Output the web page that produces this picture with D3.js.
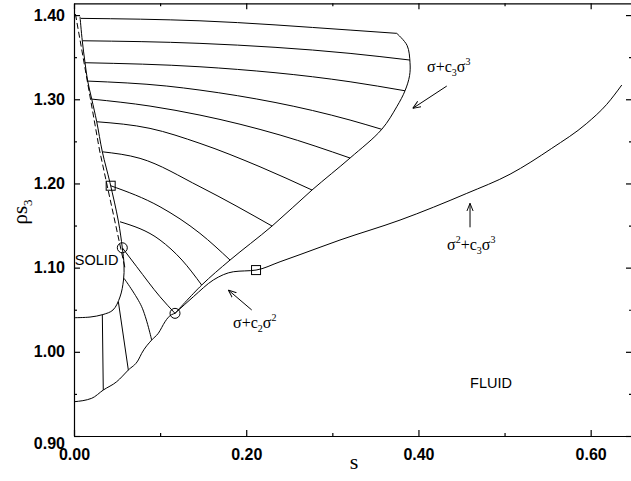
<!DOCTYPE html>
<html>
<head>
<meta charset="utf-8">
<script src="https://cdn.jsdelivr.net/npm/d3@7"></script>
<style>
  body { margin: 0; background: #fff; }
</style>
</head>
<body>
<div id="chart"></div>
<script>
// all points are [s, rho*s3]

// axis ticks
const xTicks = [0, 0.2, 0.4, 0.6];
const xMinor = [0.1, 0.3, 0.5];
const yTicks = [0.9, 1.0, 1.1, 1.2, 1.3, 1.4];
const yMinor = [0.95, 1.05, 1.15, 1.25, 1.35];

// solid side of the coexistence region
const solidLine = [[0.0070,1.398],[0.0096,1.3695],[0.0128,1.3434],[0.0159,1.3216],[0.0206,1.3002],
  [0.0264,1.2733],[0.0329,1.2376],[0.0418,1.2008],[0.0515,1.1553],[0.0561,1.1236],[0.0581,1.1031],
  [0.0575,1.0853],[0.0534,1.0651],[0.0453,1.0497],[0.0337,1.0443],[0.0186,1.0413],[0.0,1.0405]];
const dashedLine = [[0.0017,1.4012],[0.0296,1.2397],[0.0592,1.0995]];

// lower edge of the solid-solid region
const lowerEdge = [[0.0,0.9407],[0.0206,0.9448],[0.0340,0.9546],[0.0496,0.9645],[0.0631,0.9784],
  [0.0747,0.9903],[0.0786,0.9982],[0.0902,1.0140],[0.0979,1.0220],[0.1057,1.0357],[0.1095,1.0410],[0.1173,1.0457]];

// sigma + c3 sigma^3 cloud curve
const cloudCurve = [[0.1173,1.0457],[0.1483,1.0793],[0.1812,1.1090],[0.2300,1.1494],[0.2764,1.1922],
  [0.3206,1.2302],[0.3574,1.2643],[0.3748,1.2911],[0.3844,1.3101],[0.3897,1.3281],[0.3902,1.3435],
  [0.3868,1.3640],[0.3748,1.3783]];

// fluid curve: sigma + c2 sigma^2 then sigma^2 + c3 sigma^3
const fluidCurve = [[0.1173,1.0457],[0.1386,1.0654],[0.1618,1.0853],[0.1850,1.0951],[0.2114,1.0971],
  [0.2393,1.1070],[0.2625,1.1155],[0.3089,1.1328],[0.3786,1.1565],[0.4561,1.1882],[0.5064,1.2110],
  [0.5548,1.2417],[0.5955,1.2714],[0.6187,1.2940],[0.6361,1.3169]];

// tie lines solid -> fluid
const tieUpper = [
  [[0.0081,1.3961],[0.1463,1.3932],[0.3206,1.3822],[0.3748,1.3783]],
  [[0.0096,1.3695],[0.1463,1.3664],[0.3206,1.3545],[0.3900,1.3466]],
  [[0.0128,1.3434],[0.1463,1.3386],[0.3206,1.3208],[0.3844,1.3101]],
  [[0.0159,1.3216],[0.1077,1.3157],[0.1463,1.3109],[0.3206,1.2753],[0.3574,1.2643]],
  [[0.0206,1.3002],[0.0883,1.2919],[0.1463,1.2812],[0.2393,1.2575],[0.3206,1.2302]],
  [[0.0264,1.2733],[0.0883,1.2654],[0.1463,1.2476],[0.2160,1.2198],[0.2764,1.1922]],
  [[0.0329,1.2376],[0.0767,1.2298],[0.1463,1.1961],[0.2300,1.1494]],
  [[0.0426,1.1973],[0.0999,1.1723],[0.1463,1.1407],[0.1812,1.1090]],
  [[0.0534,1.1545],[0.0999,1.1328],[0.1254,1.1090],[0.1483,1.0793]],
  [[0.0561,1.1236],[0.0728,1.1011],[0.0999,1.0654],[0.1173,1.0457]]
];
// tie lines solid -> solid
const tieLower = [
  [[0.0329,1.0437],[0.0340,0.9546]],
  [[0.0515,1.0595],[0.0631,0.9784]],
  [[0.0581,1.0873],[0.0786,1.0536],[0.0902,1.0140]]
];

const squarePts = [[0.0426,1.1973],[0.2114,1.0971]];
const circlePts = [[0.0561,1.1236],[0.1173,1.0457]];

const width = 631, height = 481;
const svg = d3.select("#chart").append("svg")
  .attr("width", width)
  .attr("height", height);

const x = d3.scaleLinear().domain([0, 0.648]).range([74, 632]);
const y = d3.scaleLinear().domain([0.9, 1.414]).range([436, 3.3]);

svg.append("defs").append("marker")
  .attr("id", "arrow")
  .attr("viewBox", "0 0 10 10")
  .attr("refX", 10).attr("refY", 5)
  .attr("markerWidth", 8).attr("markerHeight", 8)
  .attr("markerUnits", "userSpaceOnUse")
  .attr("orient", "auto")
  .append("path")
  .attr("d", "M0,1 L10,5 L0,9")
  .attr("fill", "none")
  .attr("stroke", "#000")
  .attr("stroke-width", 1.2);

// axes, ticks point inward
const fmt = d3.format(".2f");
svg.append("g").attr("transform", "translate(0,436)")
  .call(d3.axisBottom(x).tickValues(xTicks).tickSize(-6).tickSizeOuter(0).tickPadding(13).tickFormat(fmt));
svg.append("g").attr("transform", "translate(0,436)")
  .call(d3.axisBottom(x).tickValues(xMinor).tickSize(-3).tickSizeOuter(0).tickFormat(""))
  .select(".domain").remove();
svg.append("g").attr("transform", "translate(0,3.3)")
  .call(d3.axisTop(x).tickValues(xTicks).tickSize(-6).tickSizeOuter(0).tickFormat(""));
svg.append("g").attr("transform", "translate(0,3.3)")
  .call(d3.axisTop(x).tickValues(xMinor).tickSize(-3).tickSizeOuter(0).tickFormat(""))
  .select(".domain").remove();

const left = svg.append("g").attr("transform", "translate(74,0)")
  .call(d3.axisLeft(y).tickValues(yTicks).tickSize(-6).tickSizeOuter(0).tickPadding(9).tickFormat(fmt));
svg.append("g").attr("transform", "translate(74,0)")
  .call(d3.axisLeft(y).tickValues(yMinor).tickSize(-3).tickSizeOuter(0).tickFormat(""))
  .select(".domain").remove();
svg.append("g").attr("transform", "translate(632,0)")
  .call(d3.axisRight(y).tickValues(yTicks).tickSize(-6).tickSizeOuter(0).tickFormat(""));
svg.append("g").attr("transform", "translate(632,0)")
  .call(d3.axisRight(y).tickValues(yMinor).tickSize(-3).tickSizeOuter(0).tickFormat(""))
  .select(".domain").remove();

svg.selectAll(".domain, .tick line").attr("stroke", "#000").attr("stroke-width", 1.2);
svg.selectAll(".tick text")
  .attr("font-family", "'Liberation Sans', Arial, sans-serif")
  .attr("font-size", 16)
  .attr("font-weight", "bold")
  .attr("fill", "#000");
// 0.90 sits a little low so it clears 0.00
left.selectAll(".tick text").filter(d => d === 0.9).attr("dy", "0.75em");

// axis titles
svg.append("text")
  .attr("x", 354).attr("y", 469)
  .attr("text-anchor", "middle")
  .attr("font-family", "'Liberation Serif', 'Times New Roman', serif")
  .attr("font-size", 22)
  .text("s");

const ylab = svg.append("text")
  .attr("transform", "translate(27,212) rotate(-90)")
  .attr("text-anchor", "middle")
  .attr("font-family", "'Liberation Serif', 'Times New Roman', serif")
  .attr("font-size", 21);
ylab.append("tspan").text("ρs");
ylab.append("tspan").attr("font-size", 13).attr("dy", 5).text("3");

// curves
const smooth = d3.line().x(d => x(d[0])).y(d => y(d[1])).curve(d3.curveCatmullRom.alpha(0.5));
const monotone = d3.line().x(d => x(d[0])).y(d => y(d[1])).curve(d3.curveMonotoneX);
const straight = d3.line().x(d => x(d[0])).y(d => y(d[1]));
const lineStyle = sel => sel.attr("fill", "none").attr("stroke", "#000").attr("stroke-width", 1);

svg.append("path").datum(solidLine).attr("d", smooth).call(lineStyle);
svg.append("path").datum(dashedLine).attr("d", straight).call(lineStyle).attr("stroke-dasharray", "6,3");
svg.append("path").datum(lowerEdge).attr("d", monotone).call(lineStyle);
svg.append("path").datum(cloudCurve).attr("d", smooth).call(lineStyle);
svg.append("path").datum(fluidCurve).attr("d", monotone).call(lineStyle);

svg.selectAll("path.tieU")
  .data(tieUpper)
  .enter()
  .append("path")
    .attr("class", "tieU")
    .attr("d", monotone)
    .call(lineStyle);
svg.selectAll("path.tieL")
  .data(tieLower)
  .enter()
  .append("path")
    .attr("class", "tieL")
    .attr("d", smooth)
    .call(lineStyle);

// markers
svg.selectAll("rect.sq")
  .data(squarePts)
  .enter()
  .append("rect")
    .attr("class", "sq")
    .attr("x", d => x(d[0]) - 4.5)
    .attr("y", d => y(d[1]) - 4.5)
    .attr("width", 9).attr("height", 9)
    .attr("fill", "none").attr("stroke", "#000").attr("stroke-width", 1);
svg.selectAll("circle.ci")
  .data(circlePts)
  .enter()
  .append("circle")
    .attr("class", "ci")
    .attr("cx", d => x(d[0]))
    .attr("cy", d => y(d[1]))
    .attr("r", 5)
    .attr("fill", "none").attr("stroke", "#000").attr("stroke-width", 1);

// arrows
const arrows = [
  [[0.4329,1.3157],[0.3934,1.2892]],
  [[0.4599,1.1479],[0.4599,1.1764]],
  [[0.2064,1.0497],[0.1792,1.0734]]
];
svg.selectAll("line.arr")
  .data(arrows)
  .enter()
  .append("line")
    .attr("x1", d => x(d[0][0])).attr("y1", d => y(d[0][1]))
    .attr("x2", d => x(d[1][0])).attr("y2", d => y(d[1][1]))
    .attr("stroke", "#000").attr("stroke-width", 1)
    .attr("marker-end", "url(#arrow)");

// series labels
const serif = "'Liberation Serif', 'Times New Roman', serif";
function mathLabel(sx, sy, parts) {
  const t = svg.append("text")
    .attr("x", x(sx)).attr("y", y(sy))
    .attr("font-family", serif)
    .attr("font-size", 16);
  parts.forEach(p => {
    t.append("tspan").attr("dy", p[1]).attr("font-size", p[2]).text(p[0]);
  });
}
mathLabel(0.410, 1.332, [["σ+c",0,16],["3",4,10],["σ",-4,16],["3",-7,10]]);
mathLabel(0.4332, 1.1209, [["σ",0,16],["2",-7,10],["+c",7,16],["3",4,10],["σ",-4,16],["3",-7,10]]);
mathLabel(0.1847, 1.0283, [["σ+c",0,16],["2",4,10],["σ",-4,16],["2",-7,10]]);

svg.append("text")
  .attr("x", x(0.001)).attr("y", y(1.1031))
  .attr("font-family", "'Liberation Sans', Arial, sans-serif")
  .attr("font-size", 14.5)
  .text("SOLID");
svg.append("text")
  .attr("x", x(0.46)).attr("y", y(0.957))
  .attr("font-family", "'Liberation Sans', Arial, sans-serif")
  .attr("font-size", 14.5)
  .text("FLUID");
</script>
</body>
</html>
